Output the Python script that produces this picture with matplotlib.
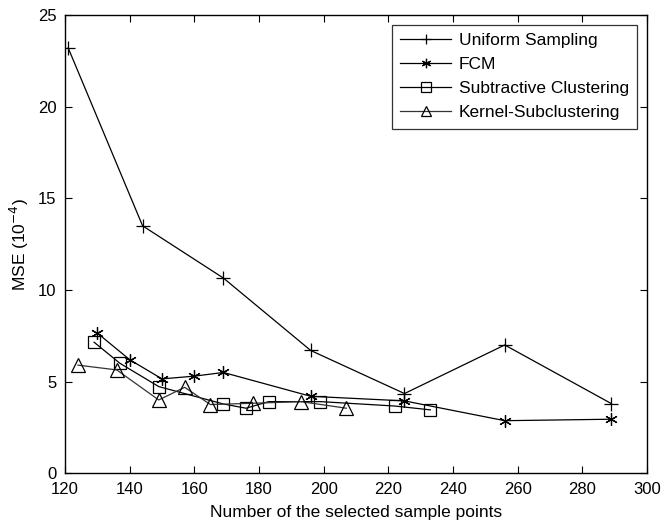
import matplotlib
matplotlib.use("Agg")
import matplotlib.pyplot as plt

plt.rcParams['font.family'] = ['Liberation Sans', 'DejaVu Sans']

uniform_x = [121, 144, 169, 196, 225, 256, 289]
uniform_y = [23.2, 13.5, 10.65, 6.7, 4.35, 7.0, 3.8]

fcm_x = [130, 140, 150, 160, 169, 196, 225, 256, 289]
fcm_y = [7.65, 6.2, 5.15, 5.3, 5.5, 4.2, 3.95, 2.87, 2.95]

sub_x = [129, 137, 149, 169, 176, 183, 199, 222, 233]
sub_y = [7.15, 6.0, 4.73, 3.78, 3.55, 3.91, 3.91, 3.67, 3.46]

ker_x = [124, 136, 149, 157, 165, 178, 193, 207]
ker_y = [5.9, 5.64, 4.0, 4.69, 3.75, 3.82, 3.91, 3.55]

xticks = [120, 140, 160, 180, 200, 220, 240, 260, 280, 300]
yticks = [0, 5, 10, 15, 20, 25]

fig = plt.figure(figsize=(6.61, 5.2), dpi=100)
ax = fig.add_axes([0.0983, 0.0898, 0.8805, 0.8814])

lw = 0.9
ax.plot(uniform_x, uniform_y, color='black', lw=lw, marker='+', ms=10, mew=0.9,
        label='Uniform Sampling')
ax.plot(fcm_x, fcm_y, color='black', lw=lw, marker=(6, 2, 0), ms=9, mew=0.9,
        label='FCM')
ax.plot(sub_x, sub_y, color='black', lw=lw, marker='s', ms=9, mew=0.9,
        mfc='none', label='Subtractive Clustering')
ax.plot(ker_x, ker_y, color='#333333', lw=lw, marker='^', ms=10, mew=0.9,
        mfc='none', mec='black', label='Kernel-Subclustering')

ax.set_xlim(120, 300)
ax.set_ylim(0, 25)
ax.set_xticks(xticks)
ax.set_yticks(yticks)
ax.tick_params(direction='in', top=True, right=True, length=5, width=0.8,
               labelsize=12)
ax.tick_params(axis='x', pad=6)
ax.tick_params(axis='y', pad=6)
for s in ax.spines.values():
    s.set_linewidth(1.0)

ax.set_xlabel('Number of the selected sample points', fontsize=12.5, labelpad=6)
ax.set_ylabel('MSE (10$^{-4}$)', fontsize=12.5, labelpad=5)

leg = ax.legend(loc='upper right', fontsize=12.5, handlelength=2.9,
                frameon=True, fancybox=False, edgecolor='black',
                borderaxespad=0.55, labelspacing=0.5, handletextpad=0.45,
                borderpad=0.5, markerscale=0.75)
leg.get_frame().set_linewidth(0.9)

fig.savefig('out.png', dpi=100)
